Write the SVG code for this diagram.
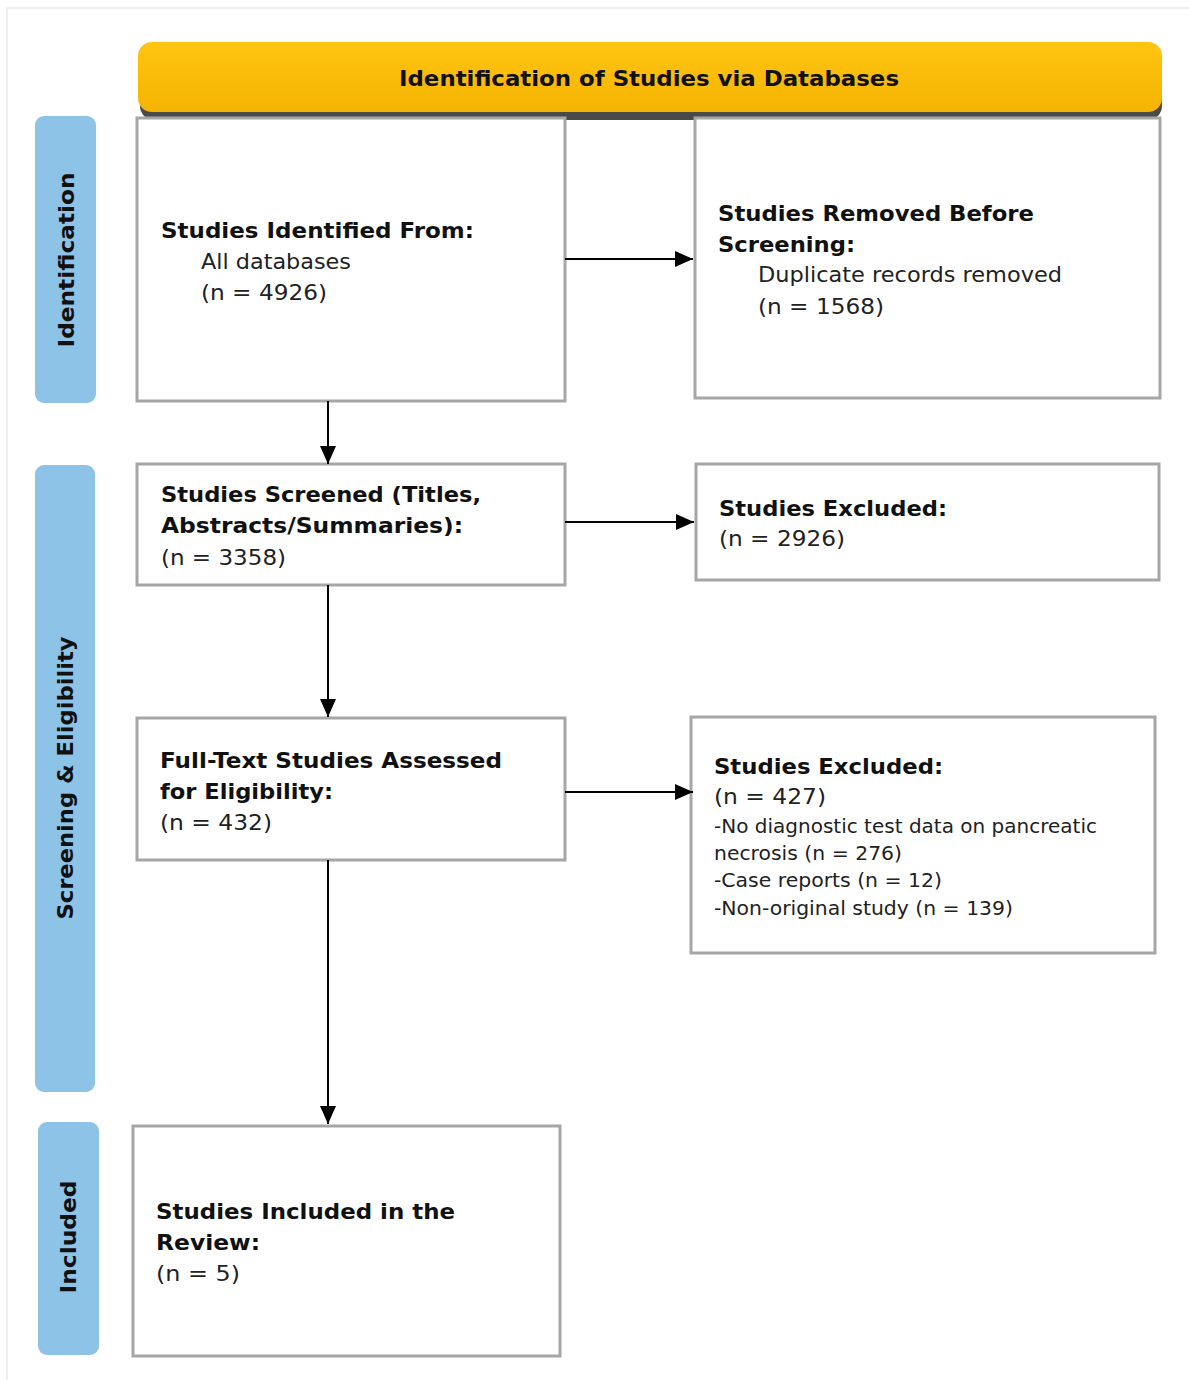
<svg xmlns="http://www.w3.org/2000/svg" width="1189" height="1380" viewBox="0 0 1189 1380">
<defs>
<linearGradient id="hdr" x1="0" y1="0" x2="0" y2="1">
<stop offset="0" stop-color="#FFC412"/>
<stop offset="1" stop-color="#F5B400"/>
</linearGradient>
<marker id="arr" viewBox="0 0 18 16" refX="18" refY="8" markerWidth="18" markerHeight="16" orient="auto" markerUnits="userSpaceOnUse">
<path d="M0,0 L18,8 L0,16 Z" fill="#000"/>
</marker>
</defs>
<style>
.box{fill:#fff;stroke:#A6A6A6;stroke-width:3}
.side{fill:#8EC3E8}
.b{font-family:"DejaVu Sans",Verdana,sans-serif;font-weight:bold;font-size:21px;fill:#111}
.r{font-family:"DejaVu Sans",Verdana,sans-serif;font-size:21px;fill:#222}
.s{font-family:"DejaVu Sans",Verdana,sans-serif;font-size:19px;fill:#222}
.h{font-family:"DejaVu Sans Condensed","DejaVu Sans",sans-serif;font-weight:bold;font-size:22px;fill:#111}
.conn{stroke:#000;stroke-width:2;fill:none;marker-end:url(#arr)}
</style>
<rect width="1189" height="1380" fill="#fff"/>
<path d="M7,1380 V8 H1189" fill="none" stroke="#EEEEEE" stroke-width="2"/>

<g id="header">
<rect x="140" y="50" width="1022" height="70" rx="14" fill="#4A4A4A"/>
<rect x="138" y="42" width="1024" height="70" rx="14" fill="url(#hdr)"/>
<text class="h" x="649" y="86" text-anchor="middle" textLength="500" lengthAdjust="spacingAndGlyphs">Identification of Studies via Databases</text>
</g>

<g id="side-identification">
<rect class="side" x="35" y="116" width="61" height="287" rx="9"/>
<text class="b" transform="translate(74,260) rotate(-90)" text-anchor="middle" textLength="175" lengthAdjust="spacingAndGlyphs">Identification</text>
</g>
<g id="side-screening">
<rect class="side" x="35" y="465" width="60" height="627" rx="9"/>
<text class="b" transform="translate(73,778) rotate(-90)" text-anchor="middle" textLength="283" lengthAdjust="spacingAndGlyphs">Screening &amp; Eligibility</text>
</g>
<g id="side-included">
<rect class="side" x="38" y="1122" width="61" height="233" rx="9"/>
<text class="b" transform="translate(76,1237) rotate(-90)" text-anchor="middle" textLength="113" lengthAdjust="spacingAndGlyphs">Included</text>
</g>

<g id="identified">
<rect class="box" x="137" y="118" width="428" height="283"/>
<text class="b" x="161" y="238" textLength="313" lengthAdjust="spacingAndGlyphs">Studies Identified From:</text>
<text class="r" x="201" y="269" textLength="150" lengthAdjust="spacingAndGlyphs">All databases</text>
<text class="r" x="201" y="300" textLength="126" lengthAdjust="spacingAndGlyphs">(n = 4926)</text>
</g>

<g id="removed">
<rect class="box" x="695" y="118" width="465" height="280"/>
<text class="b" x="718" y="221" textLength="316" lengthAdjust="spacingAndGlyphs">Studies Removed Before</text>
<text class="b" x="718" y="252" textLength="137" lengthAdjust="spacingAndGlyphs">Screening:</text>
<text class="r" x="758" y="282" textLength="304" lengthAdjust="spacingAndGlyphs">Duplicate records removed</text>
<text class="r" x="758" y="314" textLength="126" lengthAdjust="spacingAndGlyphs">(n = 1568)</text>
</g>

<g id="screened">
<rect class="box" x="137" y="464" width="428" height="121"/>
<text class="b" x="161" y="502" textLength="320" lengthAdjust="spacingAndGlyphs">Studies Screened (Titles,</text>
<text class="b" x="161" y="533" textLength="302" lengthAdjust="spacingAndGlyphs">Abstracts/Summaries):</text>
<text class="r" x="161" y="565" textLength="125" lengthAdjust="spacingAndGlyphs">(n = 3358)</text>
</g>

<g id="excluded1">
<rect class="box" x="696" y="464" width="463" height="116"/>
<text class="b" x="719" y="516" textLength="228" lengthAdjust="spacingAndGlyphs">Studies Excluded:</text>
<text class="r" x="719" y="546" textLength="126" lengthAdjust="spacingAndGlyphs">(n = 2926)</text>
</g>

<g id="fulltext">
<rect class="box" x="137" y="718" width="428" height="142"/>
<text class="b" x="160" y="768" textLength="342" lengthAdjust="spacingAndGlyphs">Full-Text Studies Assessed</text>
<text class="b" x="160" y="799" textLength="173" lengthAdjust="spacingAndGlyphs">for Eligibility:</text>
<text class="r" x="160" y="830" textLength="112" lengthAdjust="spacingAndGlyphs">(n = 432)</text>
</g>

<g id="excluded2">
<rect class="box" x="691" y="717" width="464" height="236"/>
<text class="b" x="714" y="774" textLength="229" lengthAdjust="spacingAndGlyphs">Studies Excluded:</text>
<text class="r" x="714" y="804" textLength="112" lengthAdjust="spacingAndGlyphs">(n = 427)</text>
<text class="s" x="714" y="833" textLength="383" lengthAdjust="spacingAndGlyphs">-No diagnostic test data on pancreatic</text>
<text class="s" x="714" y="860" textLength="188" lengthAdjust="spacingAndGlyphs">necrosis (n = 276)</text>
<text class="s" x="714" y="887" textLength="228" lengthAdjust="spacingAndGlyphs">-Case reports (n = 12)</text>
<text class="s" x="714" y="915" textLength="299" lengthAdjust="spacingAndGlyphs">-Non-original study (n = 139)</text>
</g>

<g id="included">
<rect class="box" x="133" y="1126" width="427" height="230"/>
<text class="b" x="156" y="1219" textLength="299" lengthAdjust="spacingAndGlyphs">Studies Included in the</text>
<text class="b" x="156" y="1250" textLength="104" lengthAdjust="spacingAndGlyphs">Review:</text>
<text class="r" x="156" y="1281" textLength="84" lengthAdjust="spacingAndGlyphs">(n = 5)</text>
</g>

<g id="connectors">
<line class="conn" x1="565" y1="259" x2="693" y2="259"/>
<line class="conn" x1="328" y1="401" x2="328" y2="464"/>
<line class="conn" x1="565" y1="522" x2="694" y2="522"/>
<line class="conn" x1="328" y1="585" x2="328" y2="717"/>
<line class="conn" x1="565" y1="792" x2="693" y2="792"/>
<line class="conn" x1="328" y1="860" x2="328" y2="1124"/>
</g>
</svg>
